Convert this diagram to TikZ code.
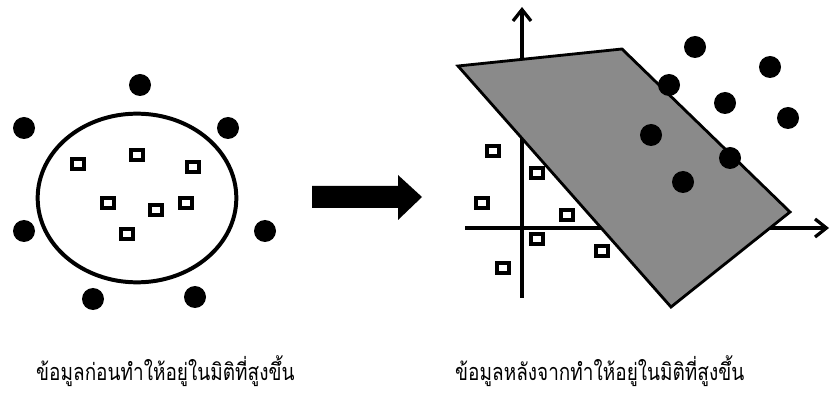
\documentclass[tikz,border=0pt]{standalone}
\usepackage{fontspec}
\newfontfamily\thaifont[Script=Thai]{Loma}
\usetikzlibrary{arrows.meta,shapes.geometric}
\definecolor{planegray}{RGB}{138,138,138}

\tikzset{
  dot/.style={circle,fill=black,inner sep=0pt,minimum size=6.6mm},
  sq/.style={draw,line width=3.2pt,inner sep=0pt,minimum width=3.8mm,minimum height=3.2mm},
  axis/.style={line width=3pt,-{Straight Barb[length=3.4mm,width=5.4mm,line width=2.8pt]}},
  caption/.style={anchor=base west,inner sep=0pt,font=\thaifont\fontsize{20}{24}\selectfont}
}

\begin{document}
\begin{tikzpicture}[x=0.3mm,y=-0.3mm]
\useasboundingbox (0,0) rectangle (830,396);

% before: circle of squares, dots outside
\node[draw,ellipse,line width=3.4pt,minimum width=59.6mm,minimum height=50.6mm] (blob) at (137,198){};
\node[dot] (a1) at (140,85){};  \node[dot] (a2) at (24,128){};  \node[dot] (a3) at (228,128){};
\node[dot] (a4) at (24,231){};  \node[dot] (a5) at (265,231){}; \node[dot] (a6) at (93,299){};
\node[dot] (a7) at (195,297){};
\node[sq] (s1) at (78,164){};  \node[sq] (s2) at (137,155){}; \node[sq] (s3) at (193,167){};
\node[sq] (s4) at (108,203){}; \node[sq] (s5) at (156,210){}; \node[sq] (s6) at (186,203){};
\node[sq] (s7) at (127,234){};

% mapping arrow
\fill (312,186) -- (398,186) -- (398,175) -- (422,197) -- (398,220) -- (398,208) -- (312,208) -- cycle;

% after: axes, separating plane, points
\coordinate (ybot) at (522,298); \coordinate (ytop) at (522,7);
\coordinate (xlft) at (465,228); \coordinate (xrgt) at (829,228);
\draw[axis] (ybot) -- (ytop);
\draw[axis] (xlft) -- (xrgt);
\filldraw[fill=planegray,line width=2.4pt,line join=miter] (458,66) -- (622,49) -- (790,212) -- (671,307) -- cycle;
\node[dot] (b1) at (695,47){};  \node[dot] (b2) at (770,67){};  \node[dot] (b3) at (669,85){};
\node[dot] (b4) at (725,103){}; \node[dot] (b5) at (788,118){}; \node[dot] (b6) at (651,135){};
\node[dot] (b7) at (730,158){}; \node[dot] (b8) at (683,182){};
\node[sq] (t1) at (493,151){}; \node[sq] (t2) at (537,173){}; \node[sq] (t3) at (482,203){};
\node[sq] (t4) at (567,215){}; \node[sq] (t5) at (537,239){}; \node[sq] (t6) at (602,251){};
\node[sq] (t7) at (503,268){};

% captions (narrow set)
\node[caption] (capA) at (36,380){\scalebox{.81}[1]{ข้อมูลก่อนทำให้อยู่ในมิติที่สูงขึ้น}};
\node[caption] (capB) at (455,380){\scalebox{.81}[1]{ข้อมูลหลังจากทำให้อยู่ในมิติที่สูงขึ้น}};
\end{tikzpicture}
\end{document}
